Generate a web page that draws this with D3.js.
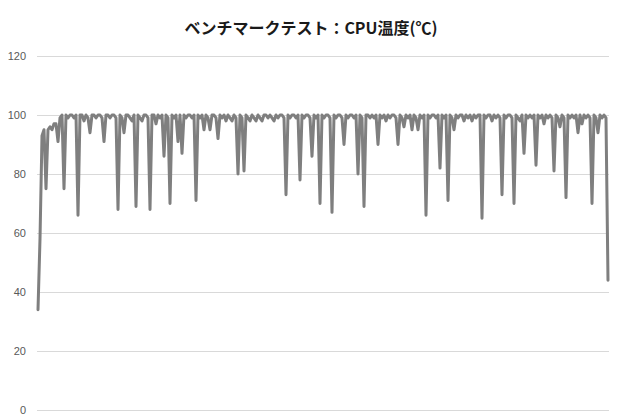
<!DOCTYPE html>
<html>
<head>
<meta charset="utf-8">
<script src="https://cdn.jsdelivr.net/npm/d3@7"></script>
<style>
  html, body { margin: 0; padding: 0; background: #fff; }
  svg { display: block; }
</style>
</head>
<body>
<svg id="chart" width="620" height="420"></svg>
<script>
// ---- data ----
const title = "ベンチマークテスト：CPU温度(℃)";
const yTicks = [0, 20, 40, 60, 80, 100, 120];
const cpuTemp = [
  34,58,93,95,75,95,96,95,97,97,
  91,99,100,75,100,99,100,100,99,100,
  66,100,100,98,100,99,94,100,100,99,
  100,100,99,91,100,100,99,100,100,99,
  68,100,99,94,100,100,99,98,100,69,
  100,99,98,100,100,99,68,100,100,97,
  100,99,100,86,100,99,70,100,99,100,
  91,100,87,100,99,100,100,99,100,71,
  100,99,100,95,100,99,95,100,100,99,
  92,100,99,100,98,100,99,98,100,99,
  80,100,99,81,100,99,98,100,99,98,
  100,99,98,100,100,99,100,99,98,100,
  99,100,100,99,73,100,99,100,100,99,
  100,78,100,99,100,100,99,86,100,99,
  100,70,100,99,100,100,99,67,100,99,
  100,100,99,90,100,99,100,100,99,100,
  80,100,99,69,100,100,99,100,99,100,
  90,100,99,100,98,100,99,100,100,99,
  90,100,99,96,100,99,100,95,100,99,
  95,100,99,100,66,100,99,100,100,99,
  100,82,100,99,100,71,100,99,95,100,
  99,100,100,98,100,99,100,98,100,99,
  100,100,65,100,99,100,100,98,100,99,
  100,99,73,100,99,100,100,99,70,100,
  99,98,100,87,100,99,100,99,100,83,
  100,99,100,97,100,99,100,99,81,100,
  99,96,100,99,72,100,99,100,99,100,
  94,100,97,100,99,100,99,70,100,99,
  94,100,99,100,99,44
];

// ---- layout ----
const svg = d3.select("#chart");
const plotLeft = 37, plotRight = 609, plotTop = 56, plotBottom = 410;

const x = d3.scaleLinear()
  .domain([0, cpuTemp.length - 1])
  .range([plotLeft + 1, plotRight - 1]);
const y = d3.scaleLinear()
  .domain([0, 120])
  .range([plotBottom, plotTop]);

// title
svg.append("text")
  .attr("x", 311)
  .attr("y", 34)
  .attr("text-anchor", "middle")
  .attr("font-family", "'Noto Sans CJK JP', 'Noto Sans', sans-serif")
  .attr("font-weight", "bold")
  .attr("font-size", 16)
  .attr("fill", "#1a1a1a")
  .text(title);

// y axis with gridlines
const yAxis = d3.axisLeft(y)
  .tickValues(yTicks)
  .tickFormat(d3.format("d"))
  .tickSize(-(plotRight - plotLeft))
  .tickPadding(11);

const gy = svg.append("g")
  .attr("transform", `translate(${plotLeft},0)`)
  .call(yAxis);
gy.select(".domain").remove();
gy.selectAll(".tick line")
  .attr("stroke", "#d9d9d9")
  .attr("stroke-width", 1);
gy.selectAll(".tick text")
  .attr("fill", "#595959")
  .attr("font-family", "'Liberation Sans', Arial, sans-serif")
  .attr("font-size", 11);

// line
const line = d3.line()
  .x((d, i) => x(i))
  .y(d => y(d));

svg.append("path")
  .datum(cpuTemp)
  .attr("fill", "none")
  .attr("stroke", "#7f7f7f")
  .attr("stroke-width", 3)
  .attr("stroke-linejoin", "round")
  .attr("stroke-linecap", "round")
  .attr("d", line);
</script>
</body>
</html>
